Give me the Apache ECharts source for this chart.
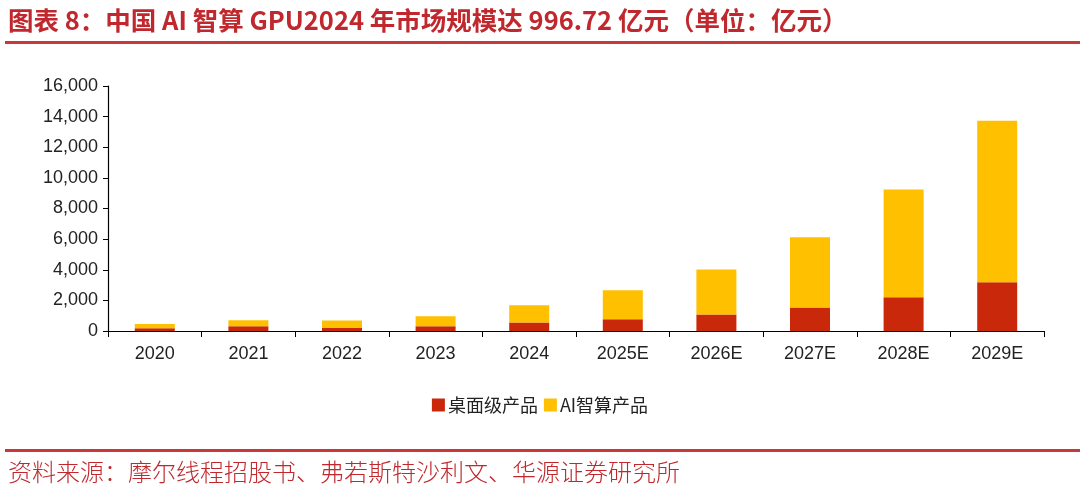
<!DOCTYPE html>
<html>
<head>
<meta charset="utf-8">
<script src="https://cdn.jsdelivr.net/npm/echarts@6/dist/echarts.min.js"></script>
<style>html,body{margin:0;padding:0;background:#fff;}#c{width:1080px;height:500px;}</style>
</head>
<body>
<div id="c"></div>
<script>
const categories = ['2020','2021','2022','2023','2024','2025E','2026E','2027E','2028E','2029E'];
const desktopValues = [180, 310, 200, 310, 550, 770, 1070, 1530, 2200, 3190];
const aiValues = [270, 390, 490, 650, 1130, 1890, 2940, 4600, 7040, 10540];
const seriesNames = ['桌面级产品', 'AI智算产品'];
const yTicks = {min: 0, max: 16000, interval: 2000};
const titleText = '图表 8：中国 AI 智算 GPU2024 年市场规模达 996.72 亿元（单位：亿元）';
const sourceText = '资料来源：摩尔线程招股书、弗若斯特沙利文、华源证券研究所';

const RED_TXT = '#C0282D';
const chart = echarts.init(document.getElementById('c'), null, {renderer: 'canvas'});
chart.setOption({
  backgroundColor: '#fff',
  animation: false,
  graphic: [
    {type: 'text', left: 8, top: 8, style: {text: titleText, fill: RED_TXT, font: 'bold 25.5px "Noto Sans CJK SC"'}},
    {type: 'rect', left: 5, top: 41, shape: {width: 1075, height: 3}, style: {fill: '#C8373A'}},
    {type: 'rect', left: 5, top: 449, shape: {width: 1075, height: 3}, style: {fill: '#C8373A'}},
    {type: 'text', left: 8, top: 460, style: {text: sourceText, fill: RED_TXT, font: '300 24px "Noto Sans CJK SC"'}}
  ],
  legend: {
    data: seriesNames,
    top: 391,
    left: 'center',
    itemWidth: 13,
    itemHeight: 13,
    itemGap: 6,
    icon: 'rect',
    textStyle: {fontSize: 18, color: '#222', fontFamily: '"Noto Sans CJK SC"', padding: [0,0,0,-2]}
  },
  grid: {left: 108, right: 36, top: 86, bottom: 169, containLabel: false},
  xAxis: {
    type: 'category',
    data: categories,
    axisLine: {lineStyle: {color: '#000', width: 1.2}},
    axisTick: {show: true, length: 6, lineStyle: {color: '#000'}, alignWithLabel: false},
    axisLabel: {fontSize: 18, color: '#222', margin: 14, fontFamily: 'Liberation Sans, Arial'}
  },
  yAxis: {
    type: 'value',
    min: yTicks.min, max: yTicks.max, interval: yTicks.interval,
    axisLine: {show: true, lineStyle: {color: '#000', width: 1.2}},
    axisTick: {show: true, length: 5, lineStyle: {color: '#000'}},
    splitLine: {show: false},
    axisLabel: {fontSize: 18, color: '#222', margin: 10, fontFamily: 'Liberation Sans, Arial',
      formatter: v => v.toLocaleString('en-US')}
  },
  series: [
    {name: seriesNames[0], type: 'bar', stack: 'total', data: desktopValues, barWidth: 40, itemStyle: {color: '#C9290A'}},
    {name: seriesNames[1], type: 'bar', stack: 'total', data: aiValues, barWidth: 40, itemStyle: {color: '#FFC000'}}
  ]
});
</script>
</body>
</html>
